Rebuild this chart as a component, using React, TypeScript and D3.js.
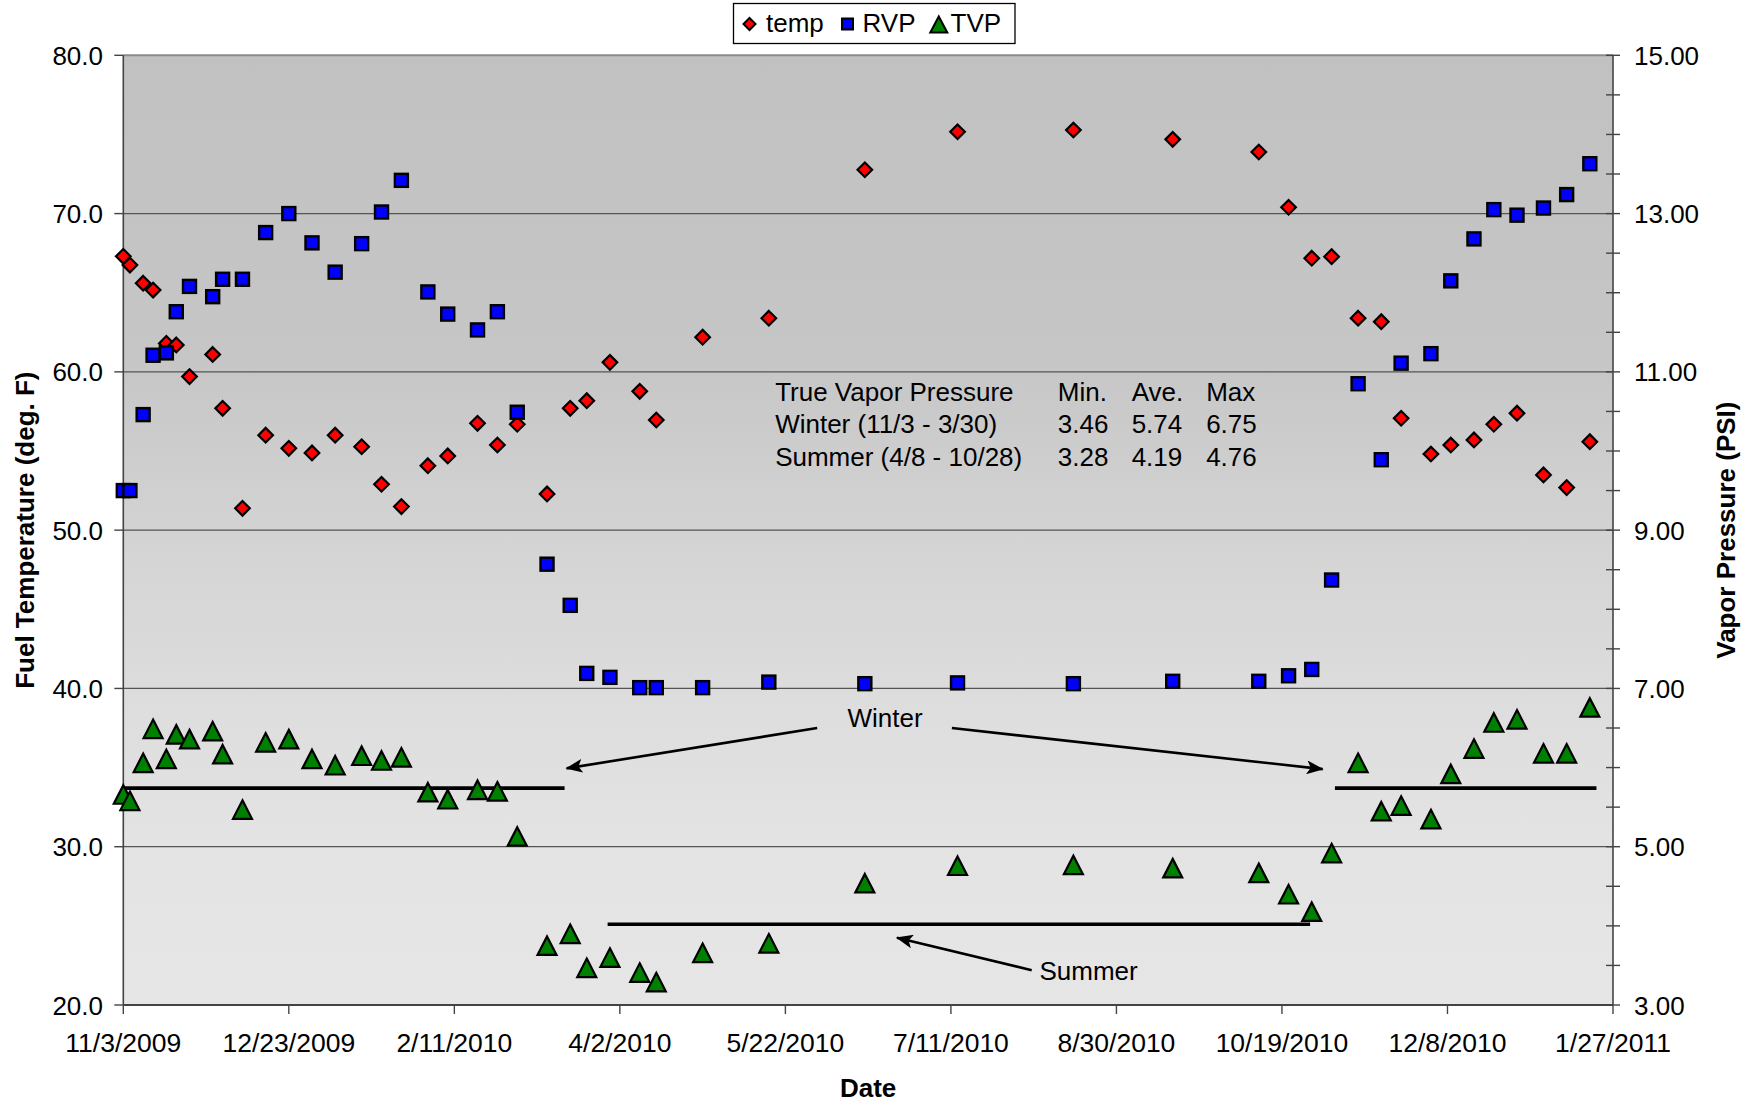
import React from "react";
import * as d3 from "d3";

// ---- sampling dates and measured series ----
const sampleDates = [
  "2009-11-03", "2009-11-05", "2009-11-09", "2009-11-12", "2009-11-16", "2009-11-19",
  "2009-11-23", "2009-11-30", "2009-12-03", "2009-12-09", "2009-12-16", "2009-12-23",
  "2009-12-30", "2010-01-06", "2010-01-14", "2010-01-20", "2010-01-26", "2010-02-03",
  "2010-02-09", "2010-02-18", "2010-02-24", "2010-03-02", "2010-03-11", "2010-03-18",
  "2010-03-23", "2010-03-30", "2010-04-08", "2010-04-13", "2010-04-27", "2010-05-17",
  "2010-06-15", "2010-07-13", "2010-08-17", "2010-09-16", "2010-10-12", "2010-10-21",
  "2010-10-28", "2010-11-03", "2010-11-11", "2010-11-18", "2010-11-24", "2010-12-03",
  "2010-12-09", "2010-12-16", "2010-12-22", "2010-12-29", "2011-01-06", "2011-01-13",
  "2011-01-20",
];

// fuel temperature, deg. F (left axis)
const tempF = [
  67.3, 66.75, 65.6, 65.17, 61.8, 61.7,
  59.7, 61.1, 57.7, 51.38, 56.0, 55.17,
  54.88, 56.0, 55.27, 52.9, 51.49, 54.07,
  54.69, 56.75, 55.38, 56.69, 52.29, 57.7,
  58.18, 60.6, 58.77, 56.96, 62.19, 63.39,
  72.77, 75.17, 75.28, 74.69, 73.89, 70.4,
  67.18, 67.28, 63.39, 63.17, 57.07, 54.81,
  55.38, 55.7, 56.69, 57.39, 53.49, 52.69,
  55.59,
];

// Reid vapor pressure, PSI (right axis)
const rvpPsi = [
  9.5, 9.5, 10.46, 11.21, 11.24, 11.76,
  12.08, 11.95, 12.17, 12.17, 12.76, 13.0,
  12.63, 12.26, 12.62, 13.02, 13.42, 12.01,
  11.73, 11.53, 11.76, 10.49, 8.57, 8.05,
  7.19, 7.14, 7.01, 7.01, 7.01, 7.08,
  7.06, 7.07, 7.06, 7.09, 7.09, 7.16,
  7.24, 8.37, 10.85, 9.89, 11.11, 11.23,
  12.15, 12.68, 13.05, 12.98, 13.07, 13.24,
  13.63,
];

// true vapor pressure, PSI (right axis)
const tvpPsi = [
  5.65, 5.57, 6.05, 6.48, 6.1, 6.41,
  6.35, 6.45, 6.16, 5.46, 6.31, 6.35,
  6.1, 6.02, 6.14, 6.08, 6.12, 5.68,
  5.59, 5.71, 5.69, 5.12, 3.74, 3.89,
  3.46, 3.59, 3.4, 3.28, 3.65, 3.77,
  4.53, 4.75, 4.76, 4.72, 4.66, 4.39,
  4.17, 4.91, 6.05, 5.44, 5.51, 5.34,
  5.91, 6.23, 6.56, 6.6, 6.17, 6.17,
  6.75,
];

const seriesNames = ["temp", "RVP", "TVP"];
const seriesFills = ["#ff0000", "#0000ff", "#008000"];

// ---- axes ----
const axisStartDate = "2009-11-03";
const axisEndDate = "2011-01-27";
const dateTickStepDays = 50;
const tempTicks = [20, 30, 40, 50, 60, 70, 80];
const psiTicks = [3, 5, 7, 9, 11, 13, 15];
const psiMinorStep = 0.5;

// ---- statistics table ----
const statsRows = [
  ["True Vapor Pressure", "Min.", "Ave.", "Max"],
  ["Winter (11/3 - 3/30)", "3.46", "5.74", "6.75"],
  ["Summer (4/8 - 10/28)", "3.28", "4.19", "4.76"],
];

// ---- season annotations (day offsets from axis start, PSI) ----
const seasonLines = [
  { from: 0, to: 133.3, psi: 5.74 },
  { from: 146.3, to: 358.5, psi: 4.02 },
  { from: 366, to: 445, psi: 5.74 },
];
const seasonArrows = [
  { x1: 209.6, y1: 6.5, x2: 133.9, y2: 5.99 },
  { x1: 250.3, y1: 6.5, x2: 362.3, y2: 5.98 },
  { x1: 274.4, y1: 3.44, x2: 233.7, y2: 3.85 },
];
const seasonLabels = [
  { text: "Winter", day: 230.1, psi: 6.513 },
  { text: "Summer", day: 291.6, psi: 3.316 },
];
const statsColumnDays = [196.9, 282.3, 304.6, 327.1];
const statsFirstRowPsi = 10.636;
const statsRowStepPsi = 0.412;

const FONT = "'Liberation Sans', Arial, Helvetica, sans-serif";
const W = 1756;
const H = 1104;
const PLOT = { left: 123.3, right: 1613, top: 55.3, bottom: 1005 };

function diamondPath(cx: number, cy: number, r: number) {
  return `M${cx},${cy - r}L${cx + r},${cy}L${cx},${cy + r}L${cx - r},${cy}Z`;
}
function trianglePath(cx: number, cy: number, hw: number, up: number, down: number) {
  return `M${cx},${cy - up}L${cx + hw},${cy + down}L${cx - hw},${cy + down}Z`;
}

export default function App() {
  const parse = d3.utcParse("%Y-%m-%d");
  const fmt = d3.utcFormat("%-m/%-d/%Y");
  const start = parse(axisStartDate) as Date;
  const end = parse(axisEndDate) as Date;

  const x = d3.scaleUtc().domain([start, end]).range([PLOT.left, PLOT.right]);
  const yT = d3.scaleLinear().domain([20, 80]).range([PLOT.bottom, PLOT.top]);
  const yP = d3.scaleLinear().domain([3, 15]).range([PLOT.bottom, PLOT.top]);
  const xDay = (d: number) => x(new Date(start.getTime() + d * 86400000));

  const dates = sampleDates.map((s) => parse(s) as Date);
  const totalDays = d3.utcDay.count(start, end);
  const dateTicks = d3.range(0, totalDays + 1, dateTickStepDays).map((d) => d3.utcDay.offset(start, d));
  const psiMinor = d3.range(3, 15 + 1e-9, psiMinorStep);

  const plotW = PLOT.right - PLOT.left;
  const plotH = PLOT.bottom - PLOT.top;
  const midY = (PLOT.top + PLOT.bottom) / 2;
  const stroke = "#000";

  return (
    <svg
      width={W}
      height={H}
      viewBox={`0 0 ${W} ${H}`}
      style={{ position: "absolute", left: 0, top: 0, display: "block", background: "#fff" }}
      fontFamily={FONT}
    >
      <defs>
        <linearGradient id="plotBg" x1="0" y1="0" x2="0" y2="1">
          <stop offset="0%" stopColor="#c1c1c1" />
          <stop offset="32%" stopColor="#c6c6c6" />
          <stop offset="50%" stopColor="#d3d3d3" />
          <stop offset="68%" stopColor="#dddddd" />
          <stop offset="82%" stopColor="#e3e3e3" />
          <stop offset="100%" stopColor="#e6e6e6" />
        </linearGradient>
        <marker
          id="stealth"
          markerUnits="userSpaceOnUse"
          markerWidth={18}
          markerHeight={14}
          refX={16}
          refY={7}
          orient="auto"
        >
          <path d="M0,0L17,7L0,14L4,7Z" fill="#000" />
        </marker>
      </defs>

      {/* plot area */}
      <rect x={PLOT.left} y={PLOT.top} width={plotW} height={plotH} fill="url(#plotBg)" />

      {/* horizontal gridlines */}
      {tempTicks.slice(1, -1).map((t) => (
        <line key={`g${t}`} x1={PLOT.left} x2={PLOT.right} y1={yT(t)} y2={yT(t)} stroke="#555" strokeWidth={1.3} />
      ))}
      <line x1={PLOT.left} x2={PLOT.right} y1={PLOT.top} y2={PLOT.top} stroke="#8a8a8a" strokeWidth={2} />

      {/* axes */}
      <line x1={PLOT.left} x2={PLOT.left} y1={PLOT.top} y2={PLOT.bottom} stroke="#444" strokeWidth={1.6} />
      <line x1={PLOT.right} x2={PLOT.right} y1={PLOT.top} y2={PLOT.bottom} stroke="#444" strokeWidth={1.6} />
      <line x1={PLOT.left} x2={PLOT.right} y1={PLOT.bottom} y2={PLOT.bottom} stroke="#444" strokeWidth={1.8} />

      {/* left axis ticks + labels */}
      {tempTicks.map((t) => (
        <g key={`lt${t}`}>
          <line x1={PLOT.left - 9} x2={PLOT.left} y1={yT(t)} y2={yT(t)} stroke="#444" strokeWidth={1.4} />
          <text x={103} y={yT(t) + 9.5} fontSize={26} textAnchor="end" fill="#000">
            {t.toFixed(1)}
          </text>
        </g>
      ))}

      {/* right axis ticks + labels */}
      {psiMinor.map((p) => (
        <line key={`rm${p}`} x1={PLOT.right - 7} x2={PLOT.right + 7} y1={yP(p)} y2={yP(p)} stroke="#444" strokeWidth={1.4} />
      ))}
      {psiTicks.map((p) => (
        <text key={`rt${p}`} x={1634} y={yP(p) + 9.5} fontSize={26} fill="#000">
          {p.toFixed(2)}
        </text>
      ))}

      {/* bottom axis ticks + labels */}
      {dateTicks.map((d, i) => (
        <g key={`xt${i}`}>
          <line x1={x(d)} x2={x(d)} y1={PLOT.bottom} y2={PLOT.bottom + 9} stroke="#444" strokeWidth={1.4} />
          <text x={x(d)} y={1052} fontSize={26.5} textAnchor="middle" fill="#000">
            {fmt(d)}
          </text>
        </g>
      ))}

      {/* axis titles */}
      <text
        transform={`translate(34,${midY}) rotate(-90)`}
        fontSize={26}
        fontWeight="bold"
        textAnchor="middle"
        fill="#000"
      >
        Fuel Temperature (deg. F)
      </text>
      <text
        transform={`translate(1735,${midY}) rotate(-90)`}
        fontSize={26}
        fontWeight="bold"
        textAnchor="middle"
        fill="#000"
      >
        Vapor Pressure (PSI)
      </text>
      <text x={(PLOT.left + PLOT.right) / 2} y={1097} fontSize={26} fontWeight="bold" textAnchor="middle" fill="#000">
        Date
      </text>

      {/* season average lines and arrows */}
      {seasonLines.map((l, i) => (
        <line key={`sl${i}`} x1={xDay(l.from)} x2={xDay(l.to)} y1={yP(l.psi)} y2={yP(l.psi)} stroke="#000" strokeWidth={3.6} />
      ))}
      {seasonArrows.map((a, i) => (
        <line
          key={`sa${i}`}
          x1={xDay(a.x1)}
          y1={yP(a.y1)}
          x2={xDay(a.x2)}
          y2={yP(a.y2)}
          stroke="#000"
          strokeWidth={2.6}
          markerEnd="url(#stealth)"
        />
      ))}
      {seasonLabels.map((s) => (
        <text key={s.text} x={xDay(s.day)} y={yP(s.psi)} fontSize={26} textAnchor="middle" fill="#000">
          {s.text}
        </text>
      ))}

      {/* statistics table */}
      {statsRows.map((row, r) =>
        row.map((cell, c) => (
          <text
            key={`st${r}-${c}`}
            x={xDay(statsColumnDays[c])}
            y={yP(statsFirstRowPsi - r * statsRowStepPsi)}
            fontSize={26}
            fill="#000"
          >
            {cell}
          </text>
        ))
      )}

      {/* temp series */}
      {dates.map((d, i) => (
        <path key={`t${i}`} d={diamondPath(x(d), yT(tempF[i]), 7.3)} fill={seriesFills[0]} stroke={stroke} strokeWidth={2.2} />
      ))}
      {/* RVP series */}
      {dates.map((d, i) => (
        <rect
          key={`r${i}`}
          x={x(d) - 6.5}
          y={yP(rvpPsi[i]) - 6.5}
          width={13}
          height={13}
          fill={seriesFills[1]}
          stroke={stroke}
          strokeWidth={2.4}
        />
      ))}
      {/* TVP series */}
      {dates.map((d, i) => (
        <path
          key={`v${i}`}
          d={trianglePath(x(d), yP(tvpPsi[i]), 9.5, 10, 8.5)}
          fill={seriesFills[2]}
          stroke={stroke}
          strokeWidth={2.2}
        />
      ))}

      {/* legend */}
      <g>
        <rect x={733.5} y={3.5} width={281.5} height={40} fill="#fff" stroke="#000" strokeWidth={1.3} />
        <path d={diamondPath(749.5, 24, 6)} fill={seriesFills[0]} stroke={stroke} strokeWidth={2} />
        <text x={766} y={32} fontSize={26} fill="#000">{seriesNames[0]}</text>
        <rect x={842} y={18.5} width={11} height={11} fill={seriesFills[1]} stroke={stroke} strokeWidth={2} />
        <text x={862.5} y={32} fontSize={26} fill="#000">{seriesNames[1]}</text>
        <path d={trianglePath(938.8, 25, 8.5, 8.5, 7.5)} fill={seriesFills[2]} stroke={stroke} strokeWidth={2} />
        <text x={950.5} y={32} fontSize={26} fill="#000">{seriesNames[2]}</text>
      </g>
    </svg>
  );
}
